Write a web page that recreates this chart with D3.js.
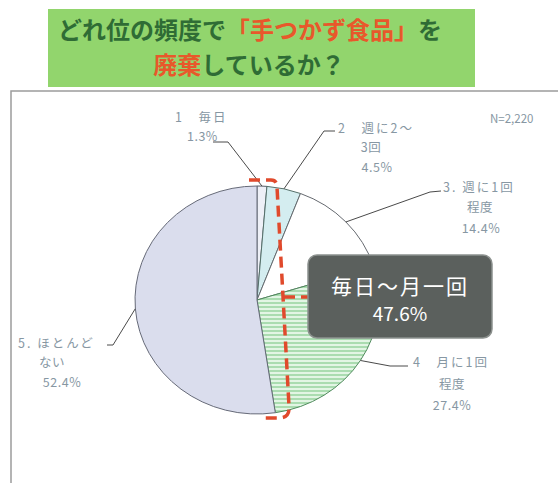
<!DOCTYPE html>
<html><head><meta charset="utf-8">
<script src="https://cdn.jsdelivr.net/npm/d3@7"></script>
<style>
html,body{margin:0;padding:0;background:#fff;}
svg{display:block;font-family:"Noto Sans CJK JP","Noto Sans",sans-serif;}
</style></head>
<body>
<svg id="c" width="558" height="483"></svg>
<script>
// ---- data ----
const categories = ["毎日", "週に2〜3回", "週に1回程度", "月に1回程度", "ほとんどない"];
const labelLines = [["1\u3000毎日"], ["2\u3000週に2〜", "3回"], ["3. 週に1回", "程度"], ["4\u3000月に1回", "程度"], ["5. ほとんど", "ない"]];
const values = [1.3, 4.5, 14.4, 27.4, 52.4];
const sampleLabel = "N=2,220";
const calloutTitle = "毎日〜月一回";
const highlightCount = 4;

const svg = d3.select("#c");
const defs = svg.append("defs");
const pat = defs.append("pattern").attr("id","stripe").attr("patternUnits","userSpaceOnUse")
  .attr("width",8).attr("height",4);
pat.append("rect").attr("width",8).attr("height",4).attr("fill","#e2f5e4");
pat.append("rect").attr("y",2.2).attr("width",8).attr("height",1.6).attr("fill","#9dd6a3");

// title box
svg.append("rect").attr("x",48).attr("y",9).attr("width",427).attr("height",78).attr("fill","#92d56d");
const t1 = svg.append("text").attr("x",250).attr("y",39).attr("text-anchor","middle")
  .attr("font-size",24).attr("font-weight","bold").attr("fill","#2f6c35");
t1.append("tspan").text("どれ位の頻度で");
t1.append("tspan").attr("fill","#e8582b").text("「手つかず食品」");
t1.append("tspan").text("を");
const t2 = svg.append("text").attr("x",249).attr("y",74).attr("text-anchor","middle")
  .attr("font-size",24).attr("font-weight","bold").attr("fill","#2f6c35");
t2.append("tspan").attr("fill","#e8582b").text("廃棄");
t2.append("tspan").text("しているか？");

// frame
svg.append("rect").attr("x",11).attr("y",91).attr("width",620).attr("height",460)
  .attr("fill","none").attr("stroke","#9c9c9c").attr("stroke-width",1.5);

svg.append("text").attr("x",490).attr("y",123).attr("font-size",11.5).attr("fill","#8797a3").text(sampleLabel);

// pie
const cx = 257, cy = 300, R = 114, sx = 1.07;
const pie = d3.pie().sort(null).value(d => d)(values);
const arc = d3.arc().innerRadius(0).outerRadius(R);
const fills = ["#eef0f7", "#d4edf0", "#ffffff", "url(#stripe)", "#dadded"];
const strokes = ["#555c66", "#55706a", "#666a70", "#4f8a5c", "#666a78"];
const g = svg.append("g").attr("transform",`translate(${cx},${cy}) scale(${sx},1)`);
g.selectAll("path").data(pie).join("path")
  .attr("d", arc).attr("fill",(d,i)=>fills[i]).attr("stroke",(d,i)=>strokes[i])
  .attr("stroke-width",1).attr("vector-effect","non-scaling-stroke");

function edge(d){ const a=(d.startAngle+d.endAngle)/2; return [cx+sx*R*Math.sin(a), cy-R*Math.cos(a)]; }

// labels
const lay = [
  {lines:[[175,122,"start"],[187,141,"start"]], knee:[[228,142],[213,142]]},
  {lines:[[338,133,"start"],[371,152,"middle"],[377,172,"middle"]], knee:[[324,131],[335,131]]},
  {lines:[[443,192,"start"],[480,212,"middle"],[481,233,"middle"]], knee:[[430,192],[441,191]]},
  {lines:[[413,367,"start"],[452,389,"middle"],[452,410,"middle"]], knee:[[390,366],[408,366]]},
  {lines:[[18,348,"start"],[52,367,"middle"],[62,387,"middle"]], knee:[[113,345],[107,345]]}
];
pie.forEach((d,i)=>{
  const L = lay[i];
  const txt = labelLines[i].concat([d3.format(".1f")(values[i])+"%"]);
  txt.forEach((s,j)=>{
    const p = L.lines[j];
    svg.append("text").attr("x",p[0]).attr("y",p[1]).attr("text-anchor",p[2])
      .attr("font-size",12.5).attr("letter-spacing",j===0?2:0.5).attr("fill","#8797a3").text(s);
  });
  const e = edge(d);
  svg.append("path").attr("d", d3.line()([e, L.knee[0], L.knee[1]]))
    .attr("fill","none").attr("stroke","#4a4a4a").attr("stroke-width",1);
});

// red dashed highlight
svg.append("path").attr("d","M249,180 L271,180 Q277,180 277,187 L289,406 Q290,418 279,418 L263,418 M284,297 L309,297")
  .attr("fill","none").attr("stroke","#e04a2c").attr("stroke-width",3.5).attr("stroke-dasharray","11,6");

// callout
const sumH = d3.sum(values.slice(0,highlightCount));
svg.append("rect").attr("x",308).attr("y",255).attr("width",184).attr("height",83).attr("rx",9)
  .attr("fill","#5b605d").attr("stroke","#8c918e").attr("stroke-width",1.5);
svg.append("text").attr("x",400).attr("y",294).attr("text-anchor","middle").attr("font-size",21)
  .attr("letter-spacing",2).attr("fill","#fff").text(calloutTitle);
svg.append("text").attr("x",400).attr("y",321).attr("text-anchor","middle").attr("font-size",19)
  .attr("fill","#fff").text(d3.format(".1f")(sumH)+"%");
</script>
</body></html>
